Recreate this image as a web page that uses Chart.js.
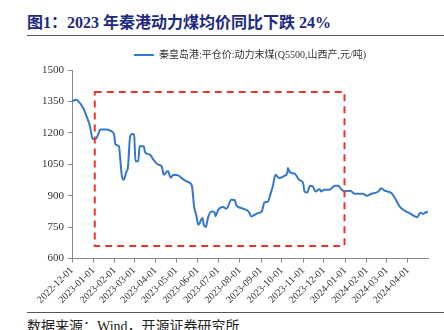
<!DOCTYPE html>
<html lang="zh">
<head>
    <meta charset="UTF-8">
    <title>2023 年秦港动力煤均价同比下跌 24%</title>
    <script src="https://cdn.jsdelivr.net/npm/chart.js"></script>
    <style>
        body { margin: 0; padding: 0; background: #fff; width: 444px; height: 330px; overflow: hidden; position: relative; font-family: "Liberation Serif", "Noto Sans CJK SC", serif; }
        .title { position: absolute; left: 27px; top: 9px; font-size: 16px; font-weight: bold; color: #1c2a84; white-space: nowrap; }
        .rule { position: absolute; left: 27px; right: 0; height: 0; border-top: 1.5px solid #555; }
        .source { position: absolute; left: 27px; top: 315px; font-size: 14px; color: #222; white-space: nowrap; }
        #chart { position: absolute; left: 0; top: 38px; }
    </style>
</head>
<body>
    <div class="title">图1：2023 年秦港动力煤均价同比下跌 24%</div>
    <div class="rule" style="top: 35px;"></div>
    <canvas id="chart" width="444" height="272"></canvas>
    <div class="rule" style="top: 312px;"></div>
    <div class="source">数据来源：Wind，开源证券研究所</div>

    <script>
        // 秦皇岛港:平仓价:动力末煤(Q5500,山西产), 元/吨
        const seriesName = "秦皇岛港:平仓价:动力末煤(Q5500,山西产,元/吨)";
        const dates = [
            "2022-12-01", "2022-12-07", "2022-12-11", "2022-12-17", "2022-12-22", "2022-12-27", "2022-12-31",
            "2023-01-04", "2023-01-08", "2023-01-11", "2023-01-20", "2023-01-27", "2023-01-31",
            "2023-02-02", "2023-02-07", "2023-02-09", "2023-02-11", "2023-02-14", "2023-02-18", "2023-02-20", "2023-02-23", "2023-02-26",
            "2023-03-01", "2023-03-03", "2023-03-07", "2023-03-09", "2023-03-15", "2023-03-17", "2023-03-24", "2023-03-29",
            "2023-04-05", "2023-04-10", "2023-04-13", "2023-04-19", "2023-04-23", "2023-04-27",
            "2023-05-04", "2023-05-09", "2023-05-16", "2023-05-22", "2023-05-24", "2023-05-27", "2023-05-30",
            "2023-06-02", "2023-06-04", "2023-06-08", "2023-06-10", "2023-06-13", "2023-06-16", "2023-06-21", "2023-06-26", "2023-06-27",
            "2023-07-01", "2023-07-08", "2023-07-13", "2023-07-20", "2023-07-25", "2023-07-27",
            "2023-08-04", "2023-08-10", "2023-08-14", "2023-08-18", "2023-08-23", "2023-08-28",
            "2023-09-02", "2023-09-06", "2023-09-11", "2023-09-15", "2023-09-18", "2023-09-22", "2023-09-27",
            "2023-10-05", "2023-10-09", "2023-10-10", "2023-10-13", "2023-10-20", "2023-10-26",
            "2023-11-01", "2023-11-03", "2023-11-07", "2023-11-11", "2023-11-15", "2023-11-19", "2023-11-25", "2023-11-27",
            "2023-12-01", "2023-12-09", "2023-12-17", "2023-12-22", "2023-12-26", "2023-12-31",
            "2024-01-08", "2024-01-15", "2024-01-27",
            "2024-02-01", "2024-02-08", "2024-02-18", "2024-02-22", "2024-02-27",
            "2024-03-08", "2024-03-13", "2024-03-20", "2024-03-27",
            "2024-04-03", "2024-04-11", "2024-04-14", "2024-04-19", "2024-04-23", "2024-04-27", "2024-04-30"
        ];
        const prices = [
            1350, 1358, 1348, 1320, 1280, 1232, 1171,
            1170, 1192, 1216, 1216, 1208, 1192,
            1144, 1136, 1072, 1000, 976, 1016, 1032, 1176, 1195,
            1192, 1064, 1064, 1136, 1136, 1107, 1096, 1072,
            1048, 1040, 1000, 1018, 986, 1000,
            997, 984, 968, 958, 944, 848, 809,
            761, 769, 795, 761, 750, 793, 824, 819, 802,
            833, 846, 838, 880, 879, 856,
            840, 833, 824, 801, 809, 817,
            824, 868, 872, 912, 944, 1000, 984,
            995, 1008, 1032, 1011, 1005, 976,
            960, 920, 915, 948, 944, 920, 932, 920,
            928, 928, 948, 948, 932, 920,
            924, 909, 909,
            900, 909, 920, 936, 924,
            913, 889, 848, 829,
            817, 801, 797, 819, 813, 821, 824
        ];
        const tickLabels = [
            "2022-12-01", "2023-01-01", "2023-02-01", "2023-03-01", "2023-04-01", "2023-05-01",
            "2023-06-01", "2023-07-01", "2023-08-01", "2023-09-01", "2023-10-01", "2023-11-01",
            "2023-12-01", "2024-01-01", "2024-02-01", "2024-03-01", "2024-04-01"
        ];
        const yTicks = [600, 750, 900, 1050, 1200, 1350, 1500];
        // highlighted period (red dashed box)
        const boxStart = "2023-01-03";
        const boxEnd = "2023-12-31";
        const boxTop = 1395;
        const boxBottom = 660;

        const origin = Date.UTC(2022, 11, 1);
        function dayOf(s) {
            const p = s.split("-").map(Number);
            return (Date.UTC(p[0], p[1] - 1, p[2]) - origin) / 86400000;
        }

        const points = dates.map((d, i) => ({ x: dayOf(d), y: prices[i] }));
        const tickDays = tickLabels.map(dayOf);

        const serif = "'Liberation Serif', 'Noto Sans CJK SC', serif";
        const lineColor = "#3577c9";

        const boxPlugin = {
            id: "periodBox",
            afterDatasetsDraw(chart) {
                const { ctx, scales } = chart;
                const x1 = scales.x.getPixelForValue(dayOf(boxStart));
                const x2 = scales.x.getPixelForValue(dayOf(boxEnd));
                const y1 = scales.y.getPixelForValue(boxTop);
                const y2 = scales.y.getPixelForValue(boxBottom);
                ctx.save();
                ctx.strokeStyle = "#e8372c";
                ctx.lineWidth = 2;
                ctx.setLineDash([7, 5]);
                ctx.strokeRect(x1, y1, x2 - x1, y2 - y1);
                ctx.restore();
            }
        };

        new Chart(document.getElementById("chart"), {
            type: "line",
            data: {
                datasets: [{
                    label: seriesName,
                    data: points,
                    borderColor: lineColor,
                    backgroundColor: lineColor,
                    borderWidth: 2,
                    pointRadius: 0,
                    tension: 0.2,
                    cubicInterpolationMode: "monotone"
                }]
            },
            options: {
                responsive: false,
                animation: false,
                layout: { padding: { left: 0, right: 16, top: 4, bottom: 2 } },
                plugins: {
                    legend: {
                        display: true,
                        fullSize: false,
                        labels: {
                            boxWidth: 20,
                            boxHeight: 2,
                            padding: 8,
                            color: "#333",
                            font: { family: serif, size: 10 },
                            generateLabels(chart) {
                                return chart.data.datasets.map((ds, i) => ({
                                    text: ds.label,
                                    fillStyle: lineColor,
                                    strokeStyle: lineColor,
                                    lineWidth: 0,
                                    fontColor: "#333",
                                    datasetIndex: i
                                }));
                            }
                        }
                    },
                    tooltip: { enabled: false }
                },
                scales: {
                    x: {
                        type: "linear",
                        min: 0,
                        max: dayOf(dates[dates.length - 1]),
                        afterBuildTicks(scale) {
                            scale.ticks = tickDays.map(v => ({ value: v }));
                        },
                        ticks: {
                            autoSkip: false,
                            minRotation: 45,
                            maxRotation: 45,
                            padding: 2,
                            color: "#333",
                            font: { family: serif, size: 10 },
                            callback(value) {
                                const i = tickDays.indexOf(value);
                                return i >= 0 ? tickLabels[i] : "";
                            }
                        },
                        grid: { drawOnChartArea: false, drawTicks: true, tickLength: 4, color: "#888" },
                        border: { color: "#888" }
                    },
                    y: {
                        min: yTicks[0],
                        max: yTicks[yTicks.length - 1],
                        afterBuildTicks(scale) {
                            scale.ticks = yTicks.map(v => ({ value: v }));
                        },
                        afterFit(scale) {
                            scale.width = 72;
                        },
                        ticks: {
                            padding: 4,
                            color: "#333",
                            font: { family: serif, size: 11 },
                            callback: value => String(value)
                        },
                        grid: { drawOnChartArea: false, drawTicks: true, tickLength: 4, color: "#888" },
                        border: { color: "#888" }
                    }
                }
            },
            plugins: [boxPlugin]
        });
    </script>
</body>
</html>
